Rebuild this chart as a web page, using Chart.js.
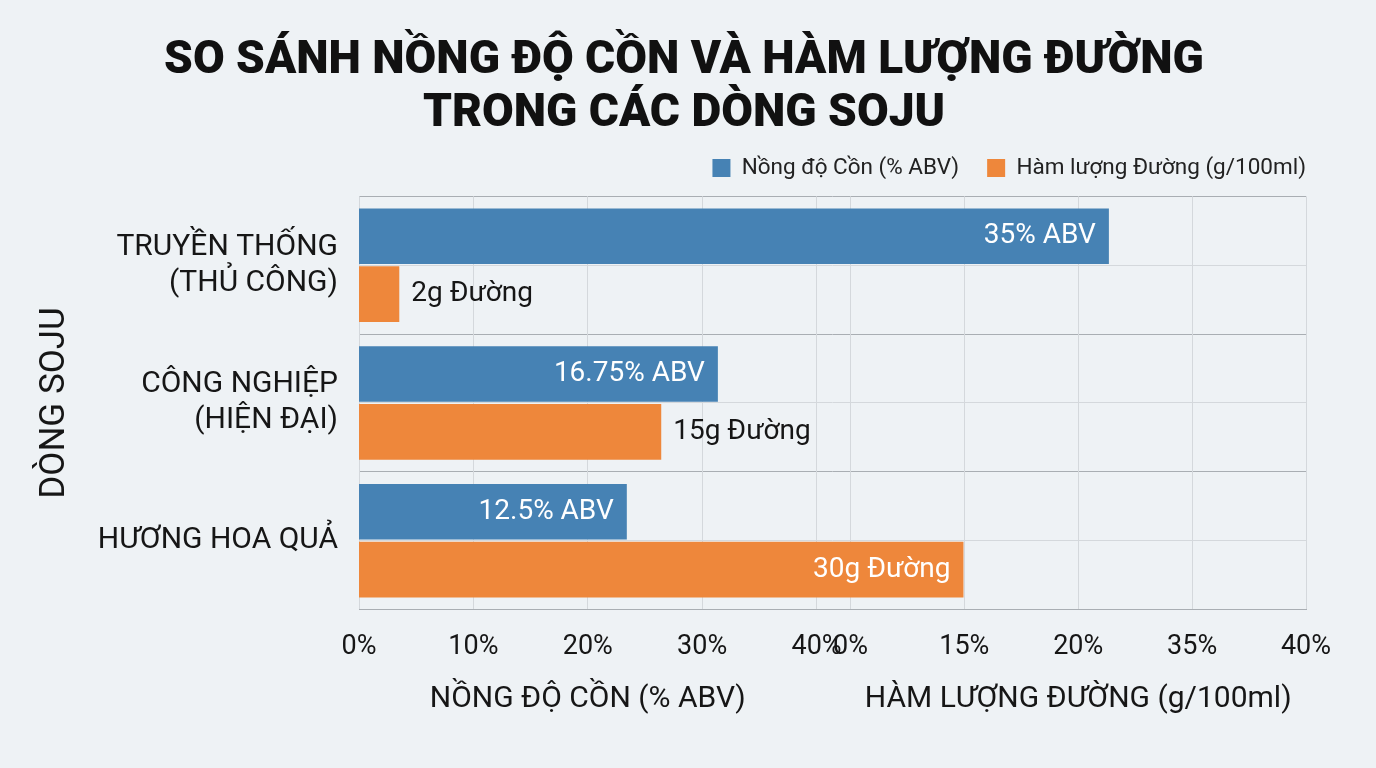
<!DOCTYPE html>
<html>
<head>
<meta charset="utf-8">
<script src="https://cdn.jsdelivr.net/npm/chart.js@4.4.1/dist/chart.umd.min.js"></script>
<style>
  html, body { margin: 0; padding: 0; background: #eef2f5; }
  #wrap { width: 1376px; height: 768px; }
</style>
</head>
<body>
<div id="wrap"><canvas id="sojuChart"></canvas></div>
<script>
// Data
const categories = [['TRUYỀN THỐNG', '(THỦ CÔNG)'], ['CÔNG NGHIỆP', '(HIỆN ĐẠI)'], 'HƯƠNG HOA QUẢ'];
const alcoholAbv = [35, 16.75, 12.5];
const sugarGrams = [2, 15, 30];
const alcoholTicks = ['0%', '10%', '20%', '30%', '40%'];
const sugarTicks = ['0%', '15%', '20%', '35%', '40%'];

Chart.defaults.font.family = 'Roboto, "Noto Sans", sans-serif';
Chart.defaults.color = '#161616';

// Draws the value text on / next to each bar
const barLabels = {
    id: 'barLabels',
    afterDatasetsDraw(chart) {
        const ctx = chart.ctx;
        ctx.save();
        ctx.font = '28px Roboto, "Noto Sans", sans-serif';
        ctx.textBaseline = 'middle';
        chart.data.datasets.forEach((ds, di) => {
            chart.getDatasetMeta(di).data.forEach((bar, i) => {
                const value = ds.data[i];
                const text = value + ds.suffix;
                if (ds.labelInside(value)) {
                    ctx.fillStyle = '#ffffff';
                    ctx.textAlign = 'right';
                    ctx.fillText(text, bar.x - 13, bar.y);
                } else {
                    ctx.fillStyle = '#161616';
                    ctx.textAlign = 'left';
                    ctx.fillText(text, bar.x + 12, bar.y);
                }
            });
        });
        ctx.restore();
    }
};

const tickFont = { size: 27 };
const titleFont = { size: 30 };

new Chart(document.getElementById('sojuChart'), {
    type: 'bar',
    data: {
        labels: categories,
        datasets: [
            {
                label: 'Nồng độ Cồn (% ABV)',
                data: alcoholAbv,
                backgroundColor: '#4682b4',
                xAxisID: 'xAbv',
                suffix: '% ABV',
                labelInside: v => true
            },
            {
                label: 'Hàm lượng Đường (g/100ml)',
                data: sugarGrams,
                backgroundColor: '#ee873b',
                xAxisID: 'xSugar',
                suffix: 'g Đường',
                labelInside: v => v >= 20
            }
        ]
    },
    options: {
        indexAxis: 'y',
        responsive: true,
        maintainAspectRatio: false,
        animation: false,
        categoryPercentage: 0.84,
        barPercentage: 0.96,
        layout: { padding: { top: 14, right: 42, bottom: 47, left: 34 } },
        plugins: {
            title: {
                display: true,
                text: ['SO SÁNH NỒNG ĐỘ CỒN VÀ HÀM LƯỢNG ĐƯỜNG', 'TRONG CÁC DÒNG SOJU'],
                color: '#111111',
                font: { size: 46, weight: 900, lineHeight: 1.15 },
                padding: { top: 21, bottom: -12 }
            },
            legend: {
                position: 'top',
                align: 'end',
                labels: {
                    boxWidth: 18,
                    boxHeight: 18,
                    padding: 28,
                    color: '#222222',
                    font: { size: 22.5 }
                }
            },
            tooltip: { enabled: false }
        },
        scales: {
            y: {
                type: 'category',
                grid: { display: false, drawTicks: false },
                border: { display: false },
                ticks: { font: { size: 30 }, color: '#161616', padding: 21 },
                title: {
                    display: true,
                    text: 'DÒNG SOJU',
                    color: '#161616',
                    font: { size: 35 },
                    padding: { top: 0, bottom: 15 }
                }
            },
            yGrid: {
                type: 'linear',
                position: 'right',
                min: 0,
                max: 3,
                offset: false,
                ticks: { display: false, stepSize: 0.5 },
                grid: {
                    offset: false,
                    drawTicks: false,
                    color: c => (c.tick && c.tick.value % 1 === 0 ? '#a9aeb3' : '#d4d8dc')
                },
                border: { display: false },
                afterFit: s => { s.width = 28; }
            },
            xAbv: {
                type: 'linear',
                position: 'top',
                min: 0,
                max: 44.2,
                grid: { display: false },
                border: { display: false },
                ticks: { display: false },
                afterFit: s => { s.height = 7; }
            },
            xSugar: { type: 'linear', display: false, min: 0, max: 47 },
            xAbvTicks: {
                type: 'category',
                position: 'bottom',
                labels: alcoholTicks,
                offset: false,
                stack: 'bottomAxes',
                stackWeight: 459,
                grid: { color: '#d4d8dc', drawTicks: false },
                border: { color: '#a9aeb3' },
                ticks: { font: tickFont, color: '#161616', padding: 21, autoSkip: false, maxRotation: 0 },
                title: { display: true, text: 'NỒNG ĐỘ CỒN (% ABV)', font: titleFont, color: '#161616', padding: { top: -3 } }
            },
            xGap: {
                type: 'category',
                position: 'bottom',
                labels: [''],
                stack: 'bottomAxes',
                stackWeight: 34,
                grid: { display: false, drawTicks: false },
                border: { color: '#a9aeb3' },
                ticks: { display: false }
            },
            xSugarTicks: {
                type: 'category',
                position: 'bottom',
                labels: sugarTicks,
                offset: false,
                stack: 'bottomAxes',
                stackWeight: 457,
                grid: { color: '#d4d8dc', drawTicks: false },
                border: { color: '#a9aeb3' },
                ticks: { font: tickFont, color: '#161616', padding: 21, autoSkip: false, maxRotation: 0 },
                title: { display: true, text: 'HÀM LƯỢNG ĐƯỜNG (g/100ml)', font: titleFont, color: '#161616', padding: { top: -3 } }
            }
        }
    },
    plugins: [barLabels]
});
</script>
</body>
</html>
